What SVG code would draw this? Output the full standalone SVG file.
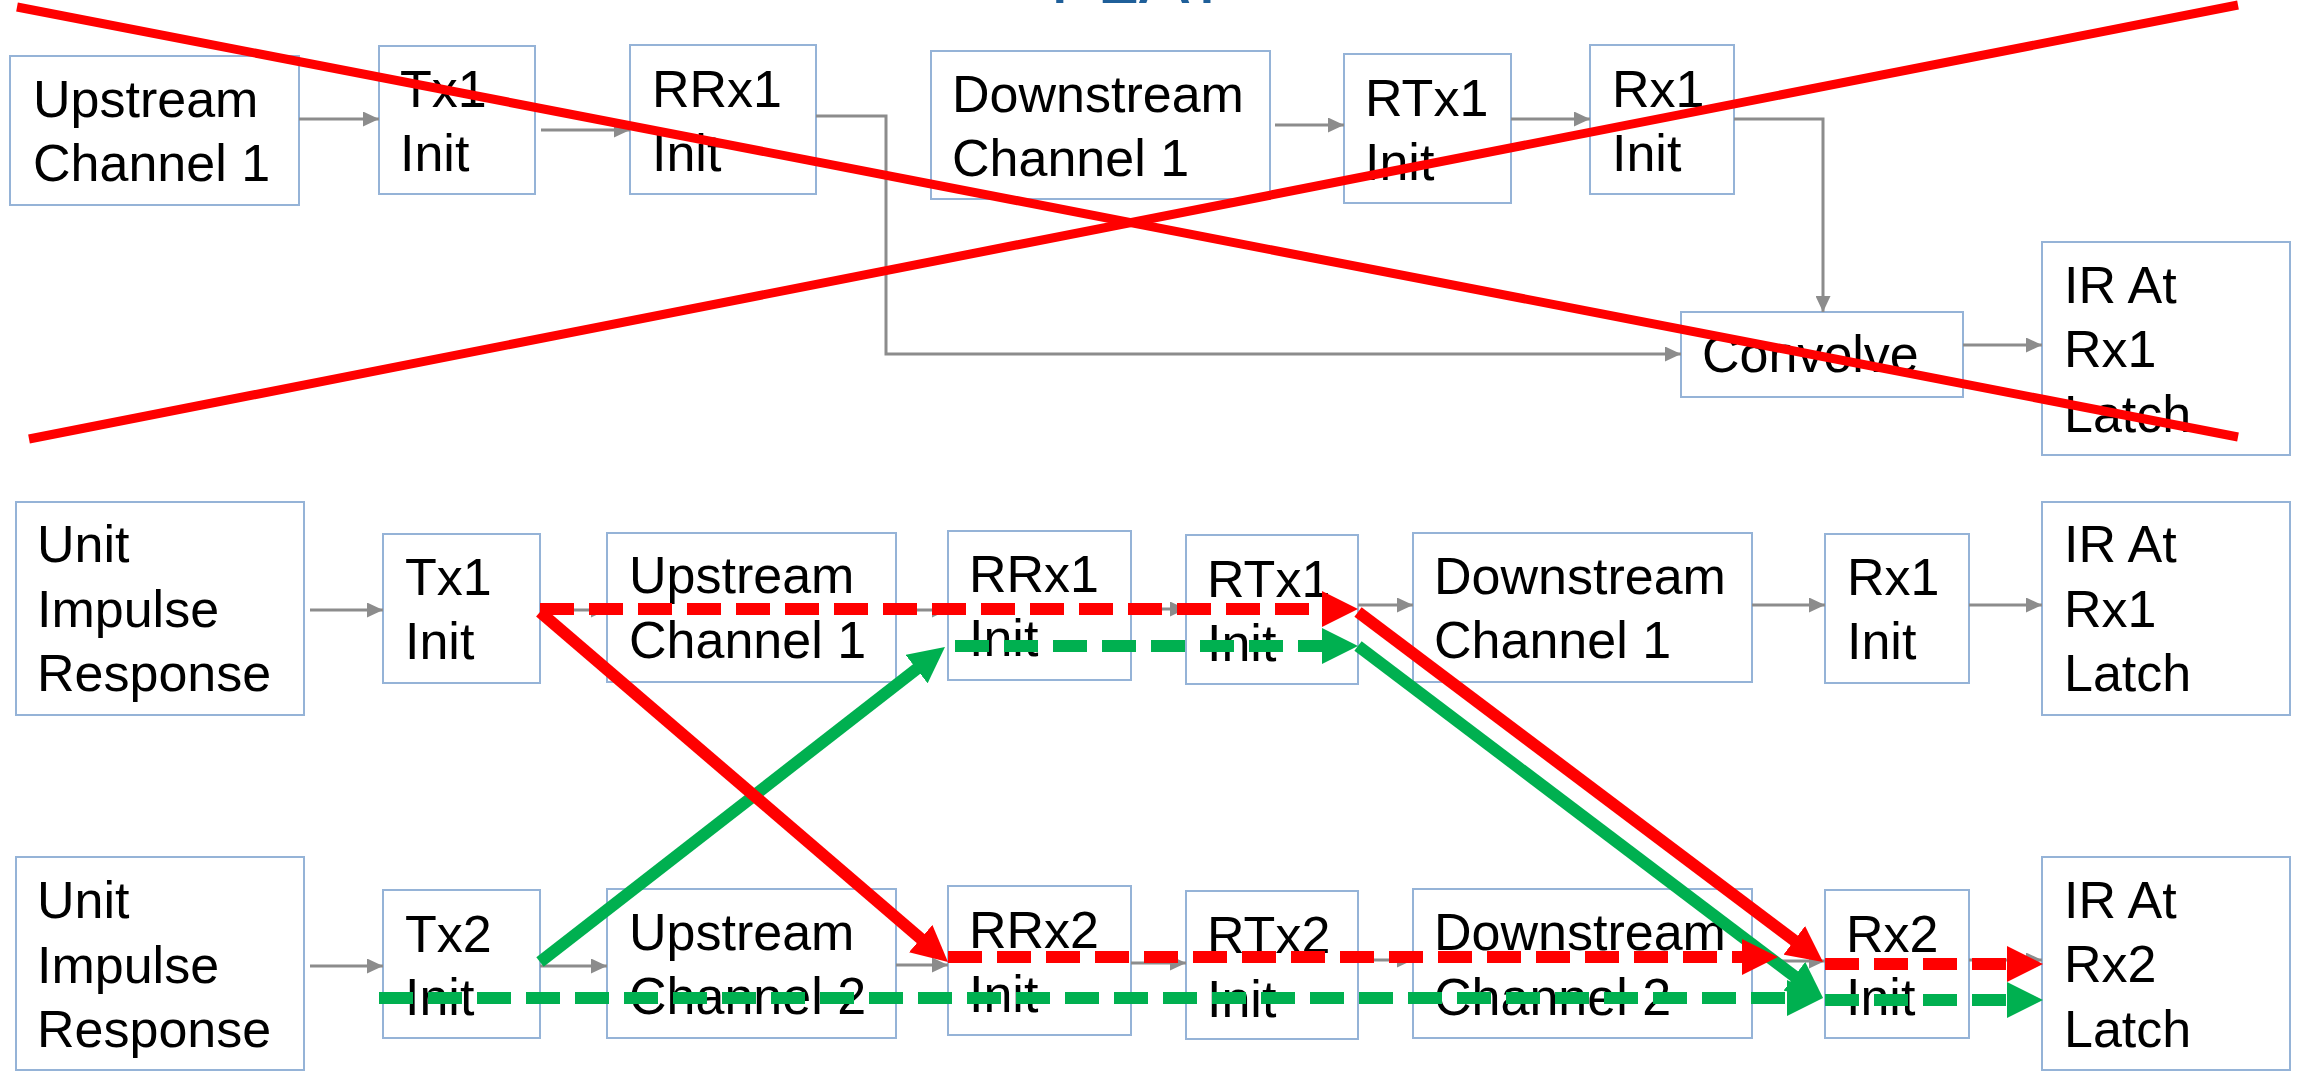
<svg xmlns="http://www.w3.org/2000/svg" width="2305" height="1074" viewBox="0 0 2305 1074">
<defs>
<style>
.box{fill:#ffffff;stroke:#95b3d7;stroke-width:2}
.t{font-family:"Liberation Sans",Arial,sans-serif;font-size:52px;fill:#000000}
.title{font-family:"Liberation Sans",Arial,sans-serif;font-size:76px;fill:#1f5f99}
.g{stroke:#8c8c8c;stroke-width:3;fill:none;marker-end:url(#ag)}
.rs{stroke:#ff0000;stroke-width:12;fill:none;marker-end:url(#ar)}
.rd{stroke:#ff0000;stroke-width:12;fill:none;stroke-dasharray:34 15;marker-end:url(#ar)}
.gs{stroke:#00b050;stroke-width:12;fill:none;marker-end:url(#agr)}
.gd{stroke:#00b050;stroke-width:12;fill:none;stroke-dasharray:34 15;marker-end:url(#agr)}
.x{stroke:#ff0000;stroke-width:9;fill:none}
</style>
<marker id="ag" markerUnits="userSpaceOnUse" markerWidth="16" markerHeight="15" refX="16" refY="7.5" orient="auto"><path d="M0,0 L16,7.5 L0,15 z" fill="#8c8c8c"/></marker>
<marker id="ar" markerUnits="userSpaceOnUse" markerWidth="36" markerHeight="36" refX="16" refY="18" orient="auto"><path d="M0,0 L36,18 L0,36 z" fill="#ff0000"/></marker>
<marker id="agr" markerUnits="userSpaceOnUse" markerWidth="36" markerHeight="36" refX="16" refY="18" orient="auto"><path d="M0,0 L36,18 L0,36 z" fill="#00b050"/></marker>
</defs>
<rect x="0" y="0" width="2305" height="1074" fill="#ffffff"/>
<text class="title" x="1050" y="3">FLAT</text>

<g id="top-upstream1"><rect class="box" x="10" y="56" width="289" height="149"/><text class="t" x="33" y="117">Upstream</text><text class="t" x="33" y="181">Channel 1</text></g>
<g id="top-tx1"><rect class="box" x="379" y="46" width="156" height="148"/><text class="t" x="400" y="107">Tx1</text><text class="t" x="400" y="171">Init</text></g>
<g id="top-rrx1"><rect class="box" x="630" y="45" width="186" height="149"/><text class="t" x="652" y="107">RRx1</text><text class="t" x="652" y="171">Init</text></g>
<g id="top-downstream1"><rect class="box" x="931" y="51" width="339" height="148"/><text class="t" x="952" y="112">Downstream</text><text class="t" x="952" y="176">Channel 1</text></g>
<g id="top-rtx1"><rect class="box" x="1344" y="54" width="167" height="149"/><text class="t" x="1365" y="116">RTx1</text><text class="t" x="1365" y="180">Init</text></g>
<g id="top-rx1"><rect class="box" x="1590" y="45" width="144" height="149"/><text class="t" x="1612" y="107">Rx1</text><text class="t" x="1612" y="171">Init</text></g>
<g id="top-convolve"><rect class="box" x="1681" y="312" width="282" height="85"/><text class="t" x="1702" y="372">Convolve</text></g>
<g id="top-ir1"><rect class="box" x="2042" y="242" width="248" height="213"/><text class="t" x="2064" y="303">IR At</text><text class="t" x="2064" y="367">Rx1</text><text class="t" x="2064" y="432">Latch</text></g>

<g id="unit1"><rect class="box" x="16" y="502" width="288" height="213"/><text class="t" x="37" y="562">Unit</text><text class="t" x="37" y="627">Impulse</text><text class="t" x="37" y="691">Response</text></g>
<g id="tx1"><rect class="box" x="383" y="534" width="157" height="149"/><text class="t" x="405" y="595">Tx1</text><text class="t" x="405" y="659">Init</text></g>
<g id="upstream1"><rect class="box" x="607" y="533" width="289" height="149"/><text class="t" x="629" y="593">Upstream</text><text class="t" x="629" y="658">Channel 1</text></g>
<g id="rrx1"><rect class="box" x="948" y="531" width="183" height="149"/><text class="t" x="969" y="592">RRx1</text><text class="t" x="969" y="656">Init</text></g>
<g id="rtx1"><rect class="box" x="1186" y="535" width="172" height="149"/><text class="t" x="1207" y="597">RTx1</text><text class="t" x="1207" y="661">Init</text></g>
<g id="downstream1"><rect class="box" x="1413" y="533" width="339" height="149"/><text class="t" x="1434" y="594">Downstream</text><text class="t" x="1434" y="658">Channel 1</text></g>
<g id="rx1"><rect class="box" x="1825" y="534" width="144" height="149"/><text class="t" x="1847" y="595">Rx1</text><text class="t" x="1847" y="659">Init</text></g>
<g id="ir1"><rect class="box" x="2042" y="502" width="248" height="213"/><text class="t" x="2064" y="562">IR At</text><text class="t" x="2064" y="627">Rx1</text><text class="t" x="2064" y="691">Latch</text></g>

<g id="unit2"><rect class="box" x="16" y="857" width="288" height="213"/><text class="t" x="37" y="918">Unit</text><text class="t" x="37" y="983">Impulse</text><text class="t" x="37" y="1047">Response</text></g>
<g id="tx2"><rect class="box" x="383" y="890" width="157" height="148"/><text class="t" x="405" y="952">Tx2</text><text class="t" x="405" y="1015">Init</text></g>
<g id="upstream2"><rect class="box" x="607" y="889" width="289" height="149"/><text class="t" x="629" y="950">Upstream</text><text class="t" x="629" y="1014">Channel 2</text></g>
<g id="rrx2"><rect class="box" x="948" y="886" width="183" height="149"/><text class="t" x="969" y="948">RRx2</text><text class="t" x="969" y="1012">Init</text></g>
<g id="rtx2"><rect class="box" x="1186" y="891" width="172" height="148"/><text class="t" x="1207" y="953">RTx2</text><text class="t" x="1207" y="1017">Init</text></g>
<g id="downstream2"><rect class="box" x="1413" y="889" width="339" height="149"/><text class="t" x="1434" y="950">Downstream</text><text class="t" x="1434" y="1015">Channel 2</text></g>
<g id="rx2"><rect class="box" x="1825" y="890" width="144" height="148"/><text class="t" x="1846" y="952">Rx2</text><text class="t" x="1846" y="1015">Init</text></g>
<g id="ir2"><rect class="box" x="2042" y="857" width="248" height="213"/><text class="t" x="2064" y="918">IR At</text><text class="t" x="2064" y="982">Rx2</text><text class="t" x="2064" y="1047">Latch</text></g>

<g id="connectors">
<path class="g" d="M299,119 H379"/>
<path class="g" d="M541,130 H630"/>
<path class="g" d="M1275,125 H1344"/>
<path class="g" d="M1511,119 H1590"/>
<path class="g" d="M816,116 H886 V354 H1681"/>
<path class="g" d="M1734,119 H1823 V312"/>
<path class="g" d="M1963,345 H2042"/>

<path class="g" d="M310,610 H383"/>
<path class="g" d="M540,610 H607"/>
<path class="g" d="M896,610 H948"/>
<path class="g" d="M1131,609 H1186"/>
<path class="g" d="M1358,605 H1413"/>
<path class="g" d="M1752,605 H1825"/>
<path class="g" d="M1969,605 H2042"/>
<path class="g" d="M310,966 H383"/>
<path class="g" d="M540,966 H607"/>
<path class="g" d="M896,965 H948"/>
<path class="g" d="M1131,963 H1186"/>
<path class="g" d="M1358,960 H1413"/>
<path class="g" d="M1752,961 H1825"/>
<path class="g" d="M1969,960 H2042"/>

<path class="rd" d="M540,609 H1338"/>
<path class="gd" d="M955,646 H1338"/>
<path class="gs" d="M540,962 L929.2,659.3"/>
<path class="rs" d="M540,612 L932.8,949"/>
<path class="rs" d="M1358,612 L1807,950"/>
<path class="gs" d="M1358,646 L1807.1,985.9"/>
<path class="rd" d="M948,957 H1758"/>
<path class="gd" d="M379,998 H1803"/>
<path class="rd" d="M1825,964 H2023"/>
<path class="gd" d="M1825,1000 H2023"/>

<path class="x" d="M17,7 L2238,437"/>
<path class="x" d="M29,439 L2238,5"/>
</g>
</svg>
